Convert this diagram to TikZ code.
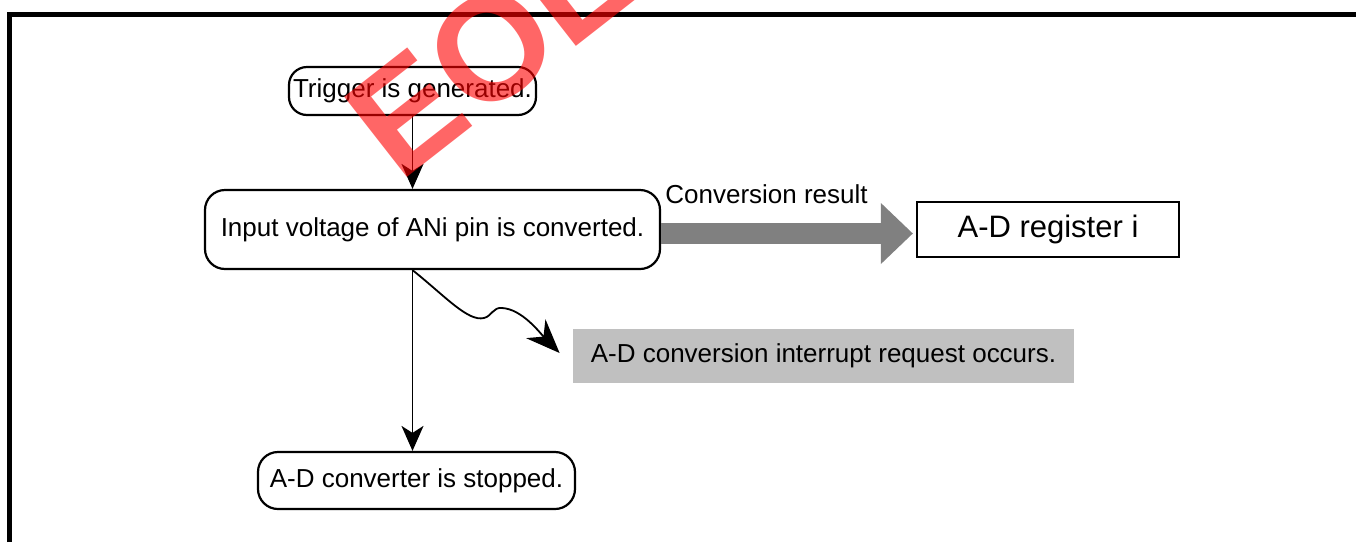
\documentclass[tikz,border=0pt]{standalone}
\usepackage{fontspec}
\setmainfont{Liberation Sans}
\usetikzlibrary{arrows.meta}
\definecolor{resultgray}{RGB}{128,128,128}
\definecolor{irqgray}{RGB}{192,192,192}

\begin{document}
\begin{tikzpicture}[x=0.5pt, y=-0.5pt, >={Stealth[length=12.5pt,width=11pt,inset=3.5pt]},
	stepbox/.style={draw, line width=1.1pt, rounded corners=10pt, inner sep=0pt, font=\fontsize{13pt}{15pt}\selectfont},
	regbox/.style={draw, line width=1.1pt, inner sep=0pt, font=\fontsize{15.5pt}{18pt}\selectfont},
	irqbox/.style={fill=irqgray, inner sep=0pt, font=\fontsize{13pt}{15pt}\selectfont},
	flow/.style={line width=0.9pt, ->}]
	\useasboundingbox (0,0) rectangle (1356,542);
	% 边框
	\draw[line width=2.5pt] (9.5,542) -- (9.5,14) -- (1356,14);
	% 流程框
	\node[stepbox, rounded corners=9pt, minimum width=123.5pt, minimum height=24pt] (trig) at (412.5,91) {Trigger is generated.};
	\node[stepbox, minimum width=227.5pt, minimum height=39.5pt] (conv) at (432.5,229.5) {Input voltage of ANi pin is converted.};
	\node[stepbox, minimum width=158.5pt, minimum height=28.5pt] (stop) at (416.5,480.5) {A-D converter is stopped.};
	\node[regbox, minimum width=131pt, minimum height=27.5pt] (reg) at (1048,229.5) {A-D register i};
	\node[irqbox, minimum width=250.5pt, minimum height=27pt] (irq) at (823.5,356) {A-D conversion interrupt request occurs.};
	\node[anchor=base west, inner sep=0pt, font=\fontsize{13pt}{15pt}\selectfont] (convlbl) at (665,203) {Conversion result};
	% 箭头
	\draw[flow] (trig.south) -- (trig.south |- conv.north);
	\draw[flow] (trig.south |- conv.south) -- (trig.south |- stop.north);
	\draw[resultgray, line width=10.5pt, -{Triangle[length=16pt,width=29.5pt]}] ([yshift=-2pt]conv.east) -- ([xshift=-1.5pt,yshift=-2pt]reg.west);
	\coordinate (irqtip) at ([xshift=-6.5pt,yshift=1.5pt]irq.west);
	\draw[line width=0.9pt, -{Stealth[length=17pt,width=13.5pt,inset=5.5pt]}] (trig.south |- conv.south)
		.. controls (445,296) and (468,322) .. (484,318)
		.. controls (492,316) and (493,307) .. (502,308)
		.. controls (522,309) and (540,333) .. (irqtip);
	% 水印
	\node[rotate=38, text=red, opacity=0.6, inner sep=0pt, font=\fontsize{74pt}{74pt}\selectfont\bfseries] (eol) at (488,50) {EOL};
\end{tikzpicture}
\end{document}
